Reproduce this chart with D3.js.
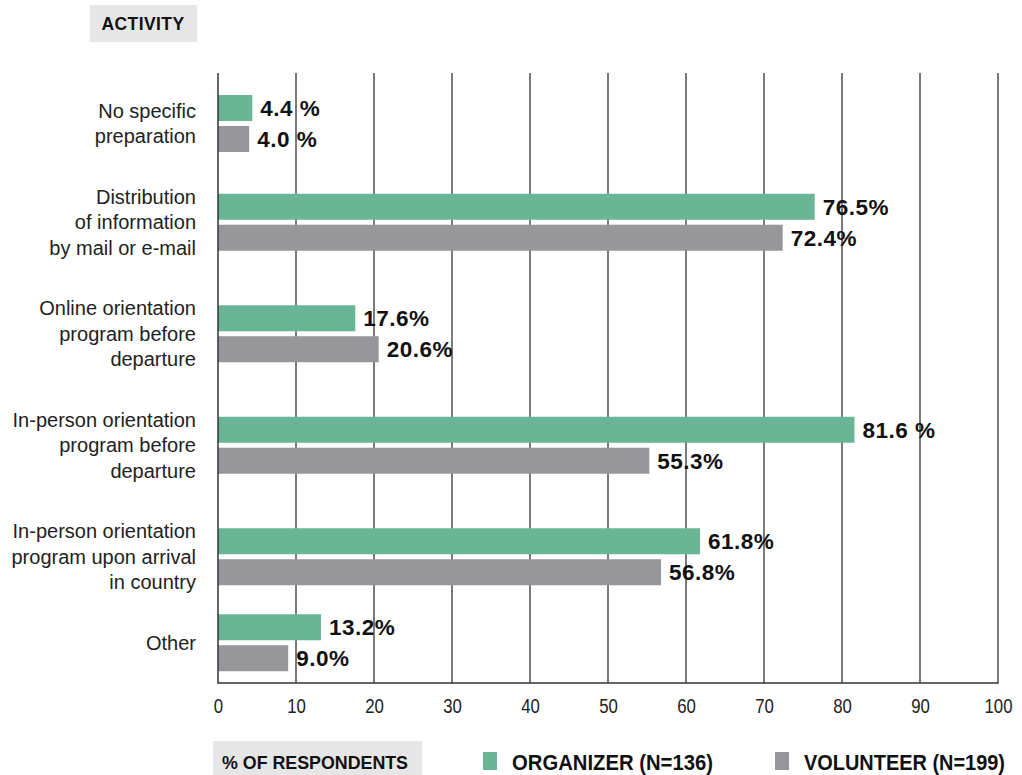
<!DOCTYPE html>
<html>
<head>
<meta charset="utf-8">
<script src="https://cdn.jsdelivr.net/npm/d3@7"></script>
<style>
  html, body { margin: 0; padding: 0; background: #ffffff; }
  svg { display: block; }
</style>
</head>
<body>
<svg id="chart" width="1022" height="775"></svg>
<script>
// ---- Data ----
const categories = [
  ["No specific", "preparation"],
  ["Distribution", "of information", "by mail or e-mail"],
  ["Online orientation", "program before", "departure"],
  ["In-person orientation", "program before", "departure"],
  ["In-person orientation", "program upon arrival", "in country"],
  ["Other"]
];
const organizerValues = [4.4, 76.5, 17.6, 81.6, 61.8, 13.2];
const volunteerValues = [4.0, 72.4, 20.6, 55.3, 56.8, 9.0];
const organizerLabels = ["4.4 %", "76.5%", "17.6%", "81.6 %", "61.8%", "13.2%"];
const volunteerLabels = ["4.0 %", "72.4%", "20.6%", "55.3%", "56.8%", "9.0%"];
const tickValues = [0, 10, 20, 30, 40, 50, 60, 70, 80, 90, 100];
const seriesNames = ["ORGANIZER (N=136)", "VOLUNTEER (N=199)"];
const axisTitle = "% OF RESPONDENTS";
const categoryTitle = "ACTIVITY";

// ---- Styles ----
const green = "#69b596";
const gray = "#97969b";
const boxFill = "#e6e6e7";
const labelFont = "'Liberation Sans', Arial, sans-serif";

const svg = d3.select("#chart");
const plotLeft = 218, plotRight = 998, plotTop = 73, plotBottom = 683;
const lineH = 25.5;          // category label line height
const groupBase = 35;        // extra vertical room per category
const groupsTop = 80.5;

const x = d3.scaleLinear().domain([0, 100]).range([plotLeft, plotRight]);

// category row heights follow the number of label lines
const rowH = categories.map(c => groupBase + c.length * lineH);
const rowStart = d3.cumsum([0, ...rowH]);
const y = d3.scaleOrdinal()
  .domain(d3.range(categories.length))
  .range(d3.range(categories.length).map(i => groupsTop + rowStart[i] + rowH[i] / 2));
const sub = d3.scaleBand().domain([0, 1]).range([-28.5, 28.5]).paddingInner(0.16);

// condensed text helper (horizontal squeeze)
function squeezed(sel, sx) {
  sel.each(function () {
    const t = d3.select(this);
    const tx = +t.attr("data-x"), ty = +t.attr("data-y");
    t.attr("x", 0).attr("y", 0).attr("transform", `translate(${tx},${ty}) scale(${sx},1)`);
  });
}

// gridlines
svg.append("g")
  .selectAll("line")
  .data(tickValues.filter(d => d > 0))
  .join("line")
  .attr("x1", d => x(d)).attr("x2", d => x(d))
  .attr("y1", plotTop).attr("y2", plotBottom)
  .attr("stroke", "#333").attr("stroke-width", 1.3);

// bars
const series = [
  { vals: organizerValues, labels: organizerLabels, color: green },
  { vals: volunteerValues, labels: volunteerLabels, color: gray }
];
series.forEach((s, si) => {
  const g = svg.append("g");
  g.selectAll("rect")
    .data(s.vals)
    .join("rect")
    .attr("x", x(0))
    .attr("y", (d, i) => y(i) + sub(si))
    .attr("width", d => x(d) - x(0))
    .attr("height", sub.bandwidth())
    .attr("fill", s.color);
  g.selectAll("text")
    .data(s.vals)
    .join("text")
    .attr("x", d => x(d) + 8)
    .attr("y", (d, i) => y(i) + sub(si) + sub.bandwidth() / 2)
    .attr("dy", "0.36em")
    .attr("font-family", labelFont)
    .attr("font-weight", "bold")
    .attr("font-size", 22.5)
    .attr("letter-spacing", 0.5)
    .attr("fill", "#111")
    .text((d, i) => s.labels[i]);
});

// axes lines
svg.append("line")
  .attr("x1", x(0)).attr("x2", x(0))
  .attr("y1", plotTop).attr("y2", plotBottom)
  .attr("stroke", "#333").attr("stroke-width", 1.5);
svg.append("line")
  .attr("x1", x(0) - 0.75).attr("x2", x(100) + 0.75)
  .attr("y1", plotBottom).attr("y2", plotBottom)
  .attr("stroke", "#333").attr("stroke-width", 1.5);

// x tick labels
const xAxis = d3.axisBottom(x).tickValues(tickValues).tickSize(0).tickPadding(0).tickFormat(d3.format("d"));
const xg = svg.append("g").attr("transform", `translate(0, ${plotBottom})`).call(xAxis);
xg.select(".domain").remove();
xg.selectAll(".tick text")
  .attr("y", 22)
  .attr("dy", "0.36em")
  .attr("font-family", labelFont)
  .attr("font-size", 21)
  .attr("fill", "#222")
  .attr("transform", "scale(0.8,1)");

// category labels
const catG = svg.append("g");
categories.forEach((lines, i) => {
  const cy = y(i);
  const t = catG.append("text")
    .attr("text-anchor", "end")
    .attr("font-family", labelFont)
    .attr("font-size", 20)
    .attr("fill", "#222");
  lines.forEach((ln, j) => {
    t.append("tspan")
      .attr("x", 196)
      .attr("y", cy + (j - (lines.length - 1) / 2) * lineH)
      .attr("dy", "0.36em")
      .text(ln);
  });
});

// ACTIVITY box
svg.append("rect").attr("x", 90).attr("y", 5).attr("width", 107).attr("height", 37).attr("fill", boxFill);
svg.append("text")
  .attr("x", 143).attr("y", 23.5).attr("dy", "0.36em")
  .attr("text-anchor", "middle")
  .attr("font-family", labelFont)
  .attr("font-weight", "bold")
  .attr("font-size", 17.5)
  .attr("letter-spacing", 0.4)
  .attr("fill", "#111")
  .text(categoryTitle);

// % OF RESPONDENTS box
svg.append("rect").attr("x", 213).attr("y", 741).attr("width", 209).attr("height", 34).attr("fill", boxFill);
svg.append("text")
  .attr("data-x", 222).attr("data-y", 762)
  .attr("dy", "0.36em")
  .attr("font-family", labelFont)
  .attr("font-weight", "bold")
  .attr("font-size", 19)
  .attr("fill", "#111")
  .attr("textLength", 186 / 0.8)
  .attr("lengthAdjust", "spacingAndGlyphs")
  .text(axisTitle)
  .call(squeezed, 0.8);

// legend
const legendX = [483, 775];
const legendColors = [green, gray];
seriesNames.forEach((name, i) => {
  svg.append("rect").attr("x", legendX[i]).attr("y", 752).attr("width", 14).attr("height", 18).attr("fill", legendColors[i]);
  svg.append("text")
    .attr("data-x", legendX[i] + 29).attr("data-y", 762)
    .attr("dy", "0.36em")
    .attr("font-family", labelFont)
    .attr("font-weight", "bold")
    .attr("font-size", 21.5)
    .attr("fill", "#111")
    .attr("textLength", 201 / 0.8)
    .attr("lengthAdjust", "spacingAndGlyphs")
    .text(name)
    .call(squeezed, 0.8);
});
</script>
</body>
</html>
